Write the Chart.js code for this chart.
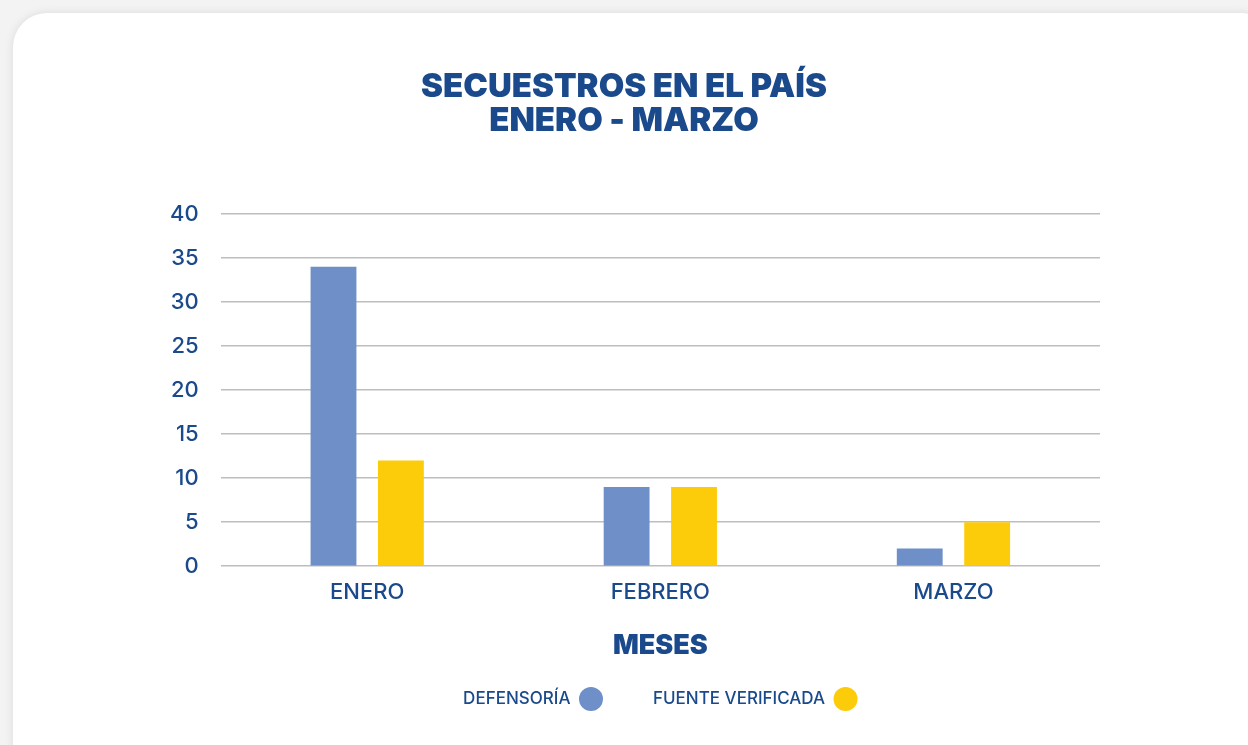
<!DOCTYPE html>
<html lang="es">
<head>
<meta charset="utf-8">
<title>Secuestros en el país</title>
<script src="https://cdn.jsdelivr.net/npm/chart.js@4.4.1/dist/chart.umd.min.js"></script>
<style>
  html, body { margin: 0; padding: 0; }
  body { width: 1248px; height: 745px; background: #f3f3f4; overflow: hidden; position: relative; }
  .card {
    position: absolute; left: 13px; top: 13px; width: 1262px; height: 765px;
    background: #fff; border-radius: 34px;
    box-shadow: 0 0 10px rgba(0, 0, 0, 0.10);
  }
  #wrap { position: absolute; left: 0; top: 0; width: 1248px; height: 745px; }
</style>
</head>
<body>
<div class="card"></div>
<div id="wrap"><canvas id="secuestrosChart"></canvas></div>
<script>
const meses = ['ENERO', 'FEBRERO', 'MARZO'];
const defensoria = [34, 9, 2];
const fuenteVerificada = [12, 9, 5];
const titulo = ['SECUESTROS EN EL PAÍS', 'ENERO - MARZO'];

const azulTexto = '#1a4a8b';
const fuente = 'Inter, "DejaVu Sans", sans-serif';

const ctx = document.getElementById('secuestrosChart').getContext('2d');
const secuestrosChart = new Chart(ctx, {
  type: 'bar',
  data: {
    labels: meses,
    datasets: [
      {
        label: 'DEFENSORÍA',
        data: defensoria,
        backgroundColor: '#6f8fc8'
      },
      {
        label: 'FUENTE VERIFICADA',
        data: fuenteVerificada,
        backgroundColor: '#fccb0a'
      }
    ]
  },
  options: {
    responsive: true,
    maintainAspectRatio: false,
    animation: false,
    categoryPercentage: 0.46,
    barPercentage: 0.68,
    layout: {
      padding: { left: 148, right: 148, top: 0, bottom: 24 }
    },
    plugins: {
      title: {
        display: true,
        text: titulo,
        color: azulTexto,
        font: { family: fuente, size: 33, weight: '900', lineHeight: 1.03 },
        padding: { top: 70, bottom: 76 }
      },
      legend: {
        position: 'bottom',
        fullSize: false,
        rtl: true,
        reverse: true,
        textDirection: 'ltr',
        labels: {
          color: azulTexto,
          font: { family: fuente, size: 17, weight: '500' },
          boxWidth: 24,
          boxHeight: 24,
          useBorderRadius: true,
          borderRadius: 12,
          padding: 50
        }
      },
      tooltip: { enabled: false }
    },
    scales: {
      x: {
        grid: { display: false },
        border: { display: false },
        ticks: {
          color: azulTexto,
          font: { family: fuente, size: 22, weight: '500' },
          padding: 5
        },
        title: {
          display: true,
          text: 'MESES',
          color: azulTexto,
          font: { family: fuente, size: 27, weight: '900' },
          padding: { top: 19, bottom: -25 }
        }
      },
      y: {
        min: 0,
        max: 40,
        ticks: {
          stepSize: 5,
          color: azulTexto,
          font: { family: fuente, size: 22, weight: '500' },
          padding: 22
        },
        grid: {
          color: '#bdbdbd',
          lineWidth: 1.5,
          drawTicks: false
        },
        border: { display: false }
      }
    }
  }
});
</script>
</body>
</html>
